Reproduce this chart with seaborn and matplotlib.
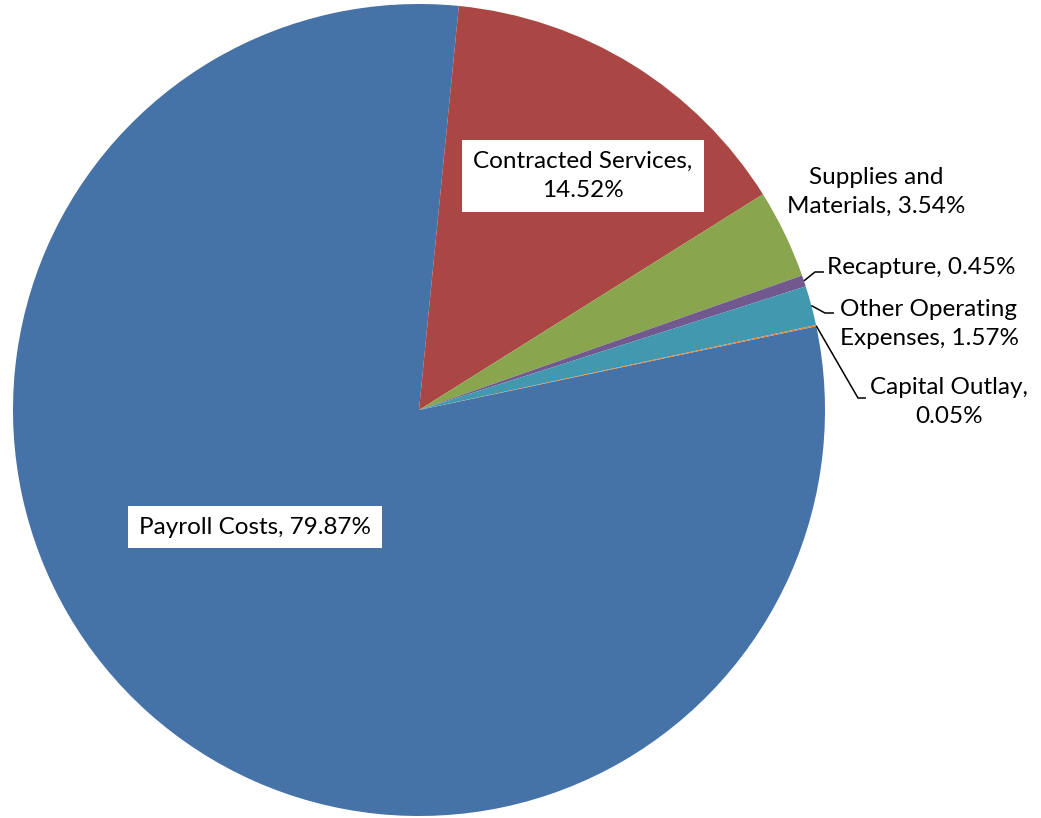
import numpy as np
import matplotlib
matplotlib.use("Agg")
import matplotlib.pyplot as plt
import seaborn as sns

categories = ["Payroll Costs", "Contracted Services", "Supplies and Materials",
              "Recapture", "Other Operating Expenses", "Capital Outlay"]
values = [79.87, 14.52, 3.54, 0.45, 1.57, 0.05]
label_texts = ["Payroll Costs, 79.87%", "Contracted Services,\n14.52%",
               "Supplies and\nMaterials, 3.54%", "Recapture, 0.45%",
               "Other Operating\nExpenses, 1.57%", "Capital Outlay,\n0.05%"]
colors = ["#4572A7", "#AA4643", "#89A54E", "#71588F", "#4198AF", "#DB843D"]

sns.set_theme(style="white")
plt.rcParams['font.family'] = ['Lato', 'DejaVu Sans']

W, H = 1041, 818
fig = plt.figure(figsize=(W / 100, H / 100), dpi=100)
cx, cy, R = 419, 410, 406
ax = fig.add_axes([(cx - R) / W, (H - cy - R) / H, 2 * R / W, 2 * R / H])
ax.set_aspect("equal")
ax.axis("off")

pal = sns.color_palette(colors)
wedges, _ = ax.pie(values, colors=pal, startangle=11.9, counterclock=False,
                   radius=1.0, center=(0, 0),
                   wedgeprops=dict(linewidth=0))
ax.set_xlim(-1, 1)
ax.set_ylim(-1, 1)


def px(x, y):
    return (x - cx) / R, (cy - y) / R


fs = 17.5
ls = 1.45
box = dict(boxstyle="square,pad=0.45", facecolor="white", edgecolor="none")

# inside labels
ax.text(*px(255, 527), label_texts[0], ha="center", va="center", fontsize=fs,
        bbox=box, color="black")
ax.text(*px(583, 176), label_texts[1], ha="center", va="center", fontsize=fs,
        bbox=box, color="black", linespacing=ls)
# outside labels
ax.text(*px(876, 192), label_texts[2], ha="center", va="center", fontsize=fs,
        color="black", linespacing=ls, clip_on=False)
ax.text(*px(827, 267), label_texts[3], ha="left", va="center", fontsize=fs,
        color="black", clip_on=False)
ax.text(*px(929, 324), label_texts[4], ha="center", va="center", fontsize=fs,
        color="black", linespacing=ls, clip_on=False)
ax.text(*px(949, 402), label_texts[5], ha="center", va="center", fontsize=fs,
        color="black", linespacing=ls, clip_on=False)


def mid_point(w):
    a = np.deg2rad((w.theta1 + w.theta2) / 2)
    return np.cos(a), np.sin(a)


# leader lines
for idx, elbow, end in [(3, (815, 272), (824, 272)),
                        (4, (825, 313), (834, 313)),
                        (5, (858, 398), (866, 398))]:
    x0, y0 = mid_point(wedges[idx])
    ex, ey = px(*elbow)
    fx, fy = px(*end)
    ax.plot([x0, ex, fx], [y0, ey, fy], color="black", linewidth=1.1,
            solid_capstyle="butt", clip_on=False)

fig.savefig("out.png", dpi=100, facecolor="white")
